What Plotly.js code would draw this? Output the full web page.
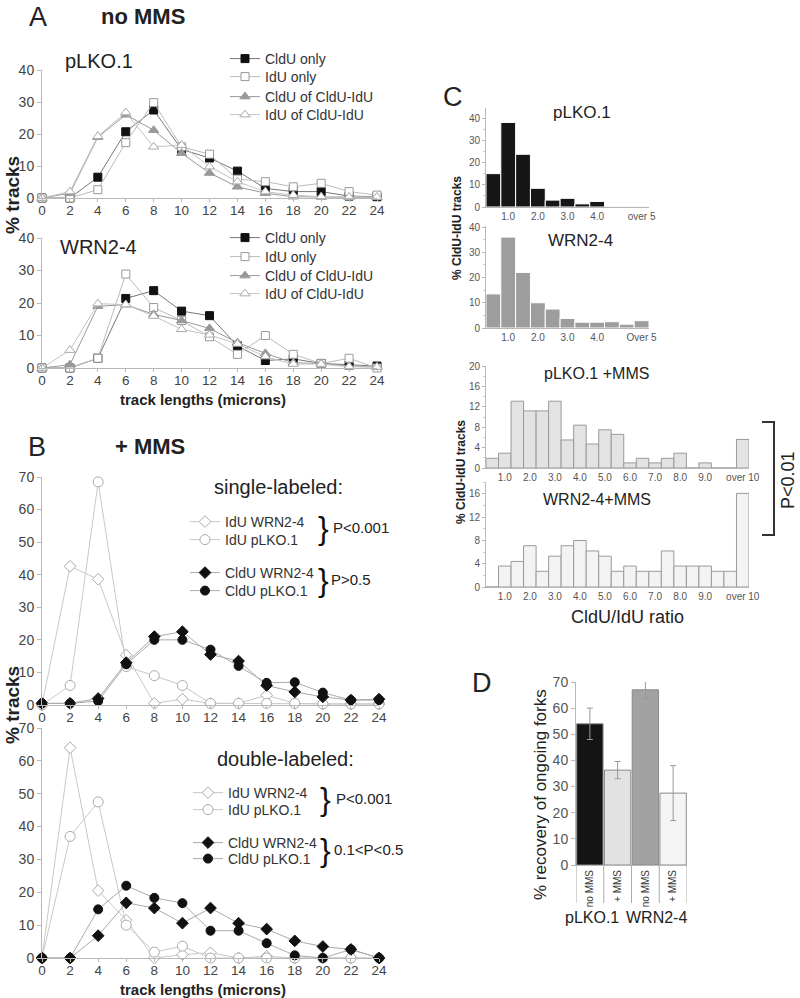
<!DOCTYPE html>
<html>
<head>
<meta charset="utf-8">
<script src="https://cdn.plot.ly/plotly-3.0.1.min.js"></script>
<style>
  body { margin: 0; background: #fff; }
  #chart { width: 800px; height: 998px; }
</style>
</head>
<body>
<div id="chart"></div>
<script>
// track length bins (microns), panels A and B
const trackLen = [0, 2, 4, 6, 8, 10, 12, 14, 16, 18, 20, 22, 24];

// A - no MMS, pLKO.1
const aPlkoCldu   = [0, 0, 6.5, 20.7, 27.5, 15.2, 12.5, 8.4, 3.0, 2.0, 2.0, 0.6, 0.4];
const aPlkoIdu    = [0, 0, 2.6, 17.3, 29.8, 16.0, 13.7, 5.9, 5.1, 3.5, 4.6, 2.0, 0.9];
const aPlkoCldu2  = [0, 1.5, 19.0, 26.0, 21.2, 14.0, 7.8, 3.5, 1.5, 0.4, 0.3, 0.2, 0.2];
const aPlkoIdu2   = [0, 2.0, 19.3, 26.7, 16.0, 16.5, 9.8, 5.1, 2.0, 0.9, 0.4, 0.3, 0.3];
// A - no MMS, WRN2-4
const aWrnCldu    = [0, 0, 3.0, 21.4, 23.8, 17.5, 16.1, 6.8, 2.3, 2.8, 1.4, 0.9, 0.6];
const aWrnIdu     = [0, 0, 3.0, 28.9, 18.6, 14.6, 9.6, 4.2, 10.0, 4.2, 1.4, 3.0, 0];
const aWrnCldu2   = [0, 1.0, 19.0, 19.5, 16.5, 14.6, 12.2, 7.8, 4.5, 1.6, 1.4, 0.5, 0.3];
const aWrnIdu2    = [0, 5.5, 19.8, 19.5, 16.0, 11.9, 10.2, 7.4, 3.5, 1.2, 1.2, 0.4, 0.3];
const aNames = ['CldU only', 'IdU only', 'CldU of CldU-IdU', 'IdU of CldU-IdU'];

// B - +MMS single-labeled
const bSingleIduWrn  = [0, 42.6, 38.6, 15.3, 0.5, 1.8, 0.5, 0.5, 3.0, 0.5, 0.3, 0.3, 0.3];
const bSingleIduPlko = [0, 6.0, 68.5, 11.8, 9.0, 6.0, 0.5, 0.5, 0.5, 0.5, 0.3, 0.3, 0.3];
const bSingleClduWrn = [0.5, 0.5, 2.0, 13.0, 21.0, 22.5, 15.5, 13.5, 6.0, 4.0, 2.5, 1.5, 1.8];
const bSingleClduPlko= [0.5, 0.5, 1.2, 12.5, 20.0, 20.0, 17.0, 12.0, 6.8, 7.0, 3.8, 1.5, 1.5];
// B - +MMS double-labeled
const bDoubleIduWrn  = [0, 64.0, 20.5, 11.5, 0, 1.0, 1.6, 0, 0.5, 0, 0, 0, 0];
const bDoubleIduPlko = [0, 37.0, 47.5, 10.0, 1.8, 3.6, 0, 0, 0, 0, 0, 0, 0];
const bDoubleClduWrn = [0, 0, 6.8, 16.8, 15.2, 10.6, 15.2, 10.6, 8.8, 5.2, 3.5, 2.6, 0];
const bDoubleClduPlko= [0, 0, 14.8, 22.0, 18.3, 16.7, 8.3, 8.3, 4.5, 0.8, 0, 2.6, 0];
const bNames = ['IdU WRN2-4', 'IdU pLKO.1', 'CldU WRN2-4', 'CldU pLKO.1'];

// C - CldU/IdU ratio histograms
const ratioBins5  = ['0.5','1.0','1.5','2.0','2.5','3.0','3.5','4.0','4.5','5.0','over 5'];
const ratioBins10 = ['0.5','1.0','1.5','2.0','2.5','3.0','3.5','4.0','4.5','5.0',
                     '5.5','6.0','6.5','7.0','7.5','8.0','8.5','9.0','9.5','10.0','over 10'];
const cPlko    = [15.0, 38.0, 23.7, 8.4, 3.1, 3.9, 1.4, 2.5, 0.3, 0.3, 0.3];
const cWrn     = [13.5, 36.0, 22.0, 10.0, 7.5, 3.8, 2.3, 2.3, 2.5, 1.5, 2.9];
const cPlkoMms = [1.9, 2.9, 13.1, 11.2, 11.2, 13.1, 5.5, 8.4, 4.7, 7.5, 6.6,
                  1.0, 1.9, 1.0, 1.9, 2.9, 0, 1.0, 0, 0, 5.6];
const cWrnMms  = [0, 3.6, 4.4, 7.1, 2.7, 5.3, 7.1, 8.0, 6.2, 5.3, 2.7,
                  3.6, 2.7, 2.7, 6.2, 3.6, 3.6, 3.6, 2.7, 2.7, 16.1];
const ticks5   = ['1.0','2.0','3.0','4.0','over 5'];
const ticks10  = ['1.0','2.0','3.0','4.0','5.0','6.0','7.0','8.0','9.0','over 10'];

// D - recovery of ongoing forks
const dCats   = ['pLKO.1 no MMS', 'pLKO.1 + MMS', 'WRN2-4 no MMS', 'WRN2-4 + MMS'];
const dLabels = ['no MMS', '+ MMS', 'no MMS', '+ MMS'];
const dValues = [54, 36.3, 67, 27.5];
const dErrors = [6, 3.3, 3.3, 10.5];

const W = 800, H = 998;
const FONT = 'Liberation Sans, Arial, Helvetica, sans-serif';
function px(v) { return v / W; }
function py(v) { return 1 - v / H; }

let traces = [];
let legends = {};
let legendCount = 0;

// every legend entry gets its own little legend so it can sit where the figure has it
function addLine(xa, ya, yvals, name, st, lx, ly, fsize) {
  legendCount++;
  let key = legendCount === 1 ? 'legend' : 'legend' + legendCount;
  legends[key] = {
    x: px(lx), y: py(ly), xanchor: 'left', yanchor: 'middle',
    bgcolor: 'rgba(0,0,0,0)', borderwidth: 0,
    font: {family: FONT, size: fsize, color: '#333'}
  };
  traces.push({
    x: trackLen, y: yvals, name: name,
    xaxis: xa, yaxis: ya, legend: key,
    type: 'scatter', mode: 'lines+markers', cliponaxis: false,
    line: {color: st.line, width: 1},
    marker: {symbol: st.symbol, size: st.size, color: st.fill,
             line: {color: st.edge, width: 1}}
  });
}

const aStyles = [
  {symbol: 'square', size: 8, fill: '#111', edge: '#111', line: '#777'},
  {symbol: 'square', size: 8, fill: '#fff', edge: '#999', line: '#bbb'},
  {symbol: 'triangle-up', size: 9, fill: '#999', edge: '#999', line: '#999'},
  {symbol: 'triangle-up', size: 9, fill: '#fff', edge: '#aaa', line: '#c4c4c4'}
];
const bStyles = [
  {symbol: 'diamond', size: 9, fill: '#fff', edge: '#aaa', line: '#c8c8c8'},
  {symbol: 'circle', size: 10, fill: '#fff', edge: '#aaa', line: '#c8c8c8'},
  {symbol: 'diamond', size: 9, fill: '#111', edge: '#111', line: '#aaa'},
  {symbol: 'circle', size: 9, fill: '#111', edge: '#111', line: '#aaa'}
];

// panel A
let aTop = [aPlkoCldu, aPlkoIdu, aPlkoCldu2, aPlkoIdu2];
let aBot = [aWrnCldu, aWrnIdu, aWrnCldu2, aWrnIdu2];
let aTopY = [59, 77, 97, 115];
let aBotY = [238, 257, 276, 294];
for (let i = 0; i < 4; i++) addLine('x', 'y', aTop[i], aNames[i], aStyles[i], 225, aTopY[i], 14);
for (let i = 0; i < 4; i++) addLine('x2', 'y2', aBot[i], aNames[i], aStyles[i], 225, aBotY[i], 14);

// panel B
let bTop = [bSingleIduWrn, bSingleIduPlko, bSingleClduWrn, bSingleClduPlko];
let bBot = [bDoubleIduWrn, bDoubleIduPlko, bDoubleClduWrn, bDoubleClduPlko];
let bTopY = [522, 540, 573, 591];
let bBotY = [793, 810, 843, 859];
for (let i = 0; i < 4; i++) addLine('x3', 'y3', bTop[i], bNames[i], bStyles[i], 185, bTopY[i], 14);
for (let i = 0; i < 4; i++) addLine('x4', 'y4', bBot[i], bNames[i], bStyles[i], 188, bBotY[i], 14);

// panel C histograms
function addHist(xa, ya, cats, vals, fill, edge) {
  traces.push({
    type: 'bar', x: cats, y: vals, xaxis: xa, yaxis: ya, showlegend: false,
    width: 1, marker: {color: fill, line: {color: edge, width: 1}}
  });
}
addHist('x5', 'y5', ratioBins5, cPlko, '#161616', '#ffffff');
addHist('x6', 'y6', ratioBins5, cWrn, '#9d9d9d', '#ffffff');
addHist('x7', 'y7', ratioBins10, cPlkoMms, '#e3e3e3', '#9a9a9a');
addHist('x8', 'y8', ratioBins10, cWrnMms, '#f3f3f3', '#9a9a9a');

// panel D
traces.push({
  type: 'bar', x: dCats, y: dValues, xaxis: 'x9', yaxis: 'y9', showlegend: false,
  width: 0.95,
  marker: {color: ['#141414', '#e2e2e2', '#a2a2a2', '#f5f5f5'],
           line: {color: '#8a8a8a', width: 1}},
  error_y: {type: 'data', array: dErrors, visible: true, color: '#999', thickness: 1, width: 3}
});

function axis(extra) {
  return Object.assign({
    showgrid: false, zeroline: false, showline: true,
    linecolor: '#b8b8b8', linewidth: 1,
    ticks: 'outside', ticklen: 4, tickcolor: '#b8b8b8',
    tickfont: {family: FONT, size: 14, color: '#444'},
    fixedrange: true
  }, extra);
}
let smallTick = {family: FONT, size: 10, color: '#555'};
let trackTick = {family: FONT, size: 13.5, color: '#444'};

function label(text, x, y, size, extra) {
  return Object.assign({
    text: text, x: px(x), y: py(y), xref: 'paper', yref: 'paper',
    showarrow: false, xanchor: 'center', yanchor: 'middle',
    font: {family: FONT, size: size, color: '#222'}
  }, extra);
}
let left = {xanchor: 'left'};
let rot = {textangle: -90};

var layout = {
  width: W, height: H,
  margin: {l: 0, r: 0, t: 0, b: 0},
  paper_bgcolor: '#fff', plot_bgcolor: 'rgba(0,0,0,0)',
  font: {family: FONT},
  bargap: 0,
  // A
  xaxis:  axis({domain: [px(42), px(377)], range: [0, 24], dtick: 2, anchor: 'y', ticklen: 3, ticklabelstandoff: -3, tickfont: trackTick}),
  yaxis:  axis({domain: [py(198), py(70)], range: [0, 40], dtick: 10, anchor: 'x'}),
  xaxis2: axis({domain: [px(42), px(377)], range: [0, 24], dtick: 2, anchor: 'y2', ticklen: 3, ticklabelstandoff: -3, tickfont: trackTick}),
  yaxis2: axis({domain: [py(368), py(238)], range: [0, 40], dtick: 10, anchor: 'x2'}),
  // B
  xaxis3: axis({domain: [px(42), px(379)], range: [0, 24], dtick: 2, anchor: 'y3', ticklen: 3, ticklabelstandoff: -3, tickfont: trackTick}),
  yaxis3: axis({domain: [py(705), py(477)], range: [0, 70], dtick: 10, anchor: 'x3'}),
  xaxis4: axis({domain: [px(42), px(379)], range: [0, 24], dtick: 2, anchor: 'y4', ticklen: 3, ticklabelstandoff: -3, tickfont: trackTick}),
  yaxis4: axis({domain: [py(958), py(728)], range: [0, 70], dtick: 10, anchor: 'x4'}),
  // C
  xaxis5: axis({domain: [px(486), px(649)], type: 'category', range: [-0.5, 10.5], anchor: 'y5',
                ticks: '', tickvals: ticks5, ticktext: ticks5, tickfont: smallTick}),
  yaxis5: axis({domain: [py(207), py(108)], range: [0, 44.5], dtick: 10, anchor: 'x5',
                tickfont: smallTick, ticklen: 3, minor: {dtick: 5, ticks: 'outside', ticklen: 2, tickcolor: '#ccc'}}),
  xaxis6: axis({domain: [px(486), px(649)], type: 'category', range: [-0.5, 10.5], anchor: 'y6',
                ticks: '', tickvals: ticks5, ticktext: ['1.0','2.0','3.0','4.0','Over 5'], tickfont: smallTick}),
  yaxis6: axis({domain: [py(328), py(226)], range: [0, 40.4], dtick: 10, anchor: 'x6',
                tickfont: smallTick, ticklen: 3, minor: {dtick: 5, ticks: 'outside', ticklen: 2, tickcolor: '#ccc'}}),
  xaxis7: axis({domain: [px(486), px(749)], type: 'category', range: [-0.5, 20.5], anchor: 'y7',
                ticks: '', tickvals: ticks10, ticktext: ticks10, tickfont: smallTick}),
  yaxis7: axis({domain: [py(468), py(366)], range: [0, 20], dtick: 4, anchor: 'x7',
                tickfont: smallTick, ticklen: 3, minor: {dtick: 2, ticks: 'outside', ticklen: 2, tickcolor: '#ccc'}}),
  xaxis8: axis({domain: [px(486), px(749)], type: 'category', range: [-0.5, 20.5], anchor: 'y8',
                ticks: '', tickvals: ticks10, ticktext: ticks10, tickfont: smallTick}),
  yaxis8: axis({domain: [py(587), py(482)], range: [0, 18.06], dtick: 4, anchor: 'x8',
                tickfont: smallTick, ticklen: 3, minor: {dtick: 2, ticks: 'outside', ticklen: 2, tickcolor: '#ccc'}}),
  // D
  xaxis9: axis({domain: [px(576), px(687)], type: 'category', range: [-0.5, 3.5], anchor: 'y9',
                ticks: '', tickvals: dCats, ticktext: dLabels, tickangle: -90,
                tickfont: {family: FONT, size: 10, color: '#333'}}),
  yaxis9: axis({domain: [py(865), py(682)], range: [0, 70], dtick: 10, anchor: 'x9',
                tickfont: {family: FONT, size: 14, color: '#555'}}),
  annotations: [
    label('A', 38, 17, 27),
    label('<b>no MMS</b>', 143, 17, 22),
    label('pLKO.1', 99, 61, 20),
    label('WRN2-4', 98, 247, 20),
    label('<b>% tracks</b>', 12, 195, 19, rot),
    label('<b>track lengths (microns)</b>', 203, 400, 15),
    label('B', 37, 447, 27),
    label('<b>+ MMS</b>', 150, 446, 22),
    label('single-labeled:', 278, 487, 20),
    label('<b>% tracks</b>', 12, 705, 19, rot),
    label('}', 323, 528, 32, {font: {family: FONT, size: 32, color: '#111'}}),
    label('P&lt;0.001', 331, 527, 15, left),
    label('}', 323, 580, 32, {font: {family: FONT, size: 32, color: '#111'}}),
    label('P&gt;0.5', 329, 579, 15, left),
    label('double-labeled:', 285, 759, 20),
    label('}', 325, 799, 32, {font: {family: FONT, size: 32, color: '#111'}}),
    label('P&lt;0.001', 334, 798, 15, left),
    label('}', 325, 850, 32, {font: {family: FONT, size: 32, color: '#111'}}),
    label('0.1&lt;P&lt;0.5', 332, 849, 15, left),
    label('<b>track lengths (microns)</b>', 203, 989, 15),
    label('C', 453, 97, 27),
    label('pLKO.1', 582, 113, 17),
    label('WRN2-4', 580, 241, 17),
    label('<b>% CldU-IdU tracks</b>', 457, 228, 12, rot),
    label('pLKO.1 +MMS', 596, 373, 16),
    label('WRN2-4+MMS', 597, 500, 16),
    label('<b>% CldU-IdU tracks</b>', 461, 472, 12, rot),
    label('CldU/IdU ratio', 627, 617, 18),
    label('P&lt;0.01', 788, 480, 18, rot),
    label('D', 482, 683, 27),
    label('% recovery of ongoing forks', 540, 795, 17, rot),
    label('pLKO.1', 592, 917, 16),
    label('WRN2-4', 656, 917, 16)
  ],
  shapes: [
    {type: 'path', xref: 'paper', yref: 'paper',
     path: 'M' + px(762) + ',' + py(422) + ' H' + px(774) + ' V' + py(535) + ' H' + px(762),
     line: {color: '#333', width: 2}}
  ]
};

// dividers under the D categories
[-0.5, 0.5, 1.5, 2.5, 3.5].forEach(function (xv) {
  layout.shapes.push({type: 'line', xref: 'x9', yref: 'paper', x0: xv, x1: xv,
                      y0: py(865), y1: py(903), line: {color: '#aaa', width: 1}});
});

Object.assign(layout, legends);

Plotly.newPlot('chart', traces, layout, {staticPlot: true});
</script>
</body>
</html>
